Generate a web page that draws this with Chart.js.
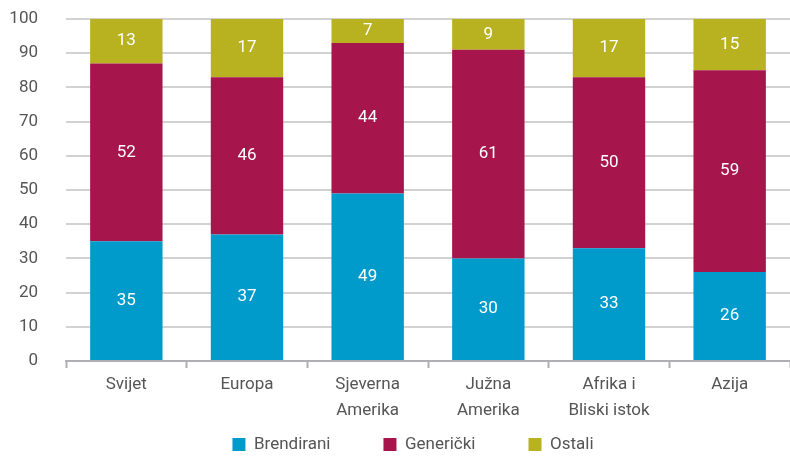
<!DOCTYPE html>
<html>
<head>
<meta charset="utf-8">
<script src="https://cdn.jsdelivr.net/npm/chart.js@4/dist/chart.umd.min.js"></script>
<style>
  html, body { margin: 0; padding: 0; background: #fff; }
  #wrap { width: 790px; height: 456px; }
</style>
</head>
<body>
<div id="wrap"><canvas id="bar-chart"></canvas></div>
<script>
// regije
var regions = [
  'Svijet',
  'Europa',
  ['Sjeverna', 'Amerika'],
  ['Južna', 'Amerika'],
  ['Afrika i', 'Bliski istok'],
  'Azija'
];

// udio po tipu (%)
var brendirani = [35, 37, 49, 30, 33, 26];
var genericki = [52, 46, 44, 61, 50, 59];
var ostali = [13, 17, 7, 9, 17, 15];

var yTicks = [0, 10, 20, 30, 40, 50, 60, 70, 80, 90, 100];

var fontName = 'Roboto, "DejaVu Sans", sans-serif';
var legendPad = 53;

// brojke u sredini stupca
var valueLabels = {
  id: 'valueLabels',
  afterDatasetsDraw: function(chart) {
    var ctx = chart.ctx;
    ctx.save();
    ctx.fillStyle = '#ffffff';
    ctx.font = '17px ' + fontName;
    ctx.textAlign = 'center';
    ctx.textBaseline = 'middle';
    chart.data.datasets.forEach(function(ds, i) {
      chart.getDatasetMeta(i).data.forEach(function(bar, j) {
        var mid = (bar.y + bar.base) / 2;
        ctx.fillText(ds.data[j], bar.x, mid);
      });
    });
    ctx.restore();
  }
};

// legenda: veliki razmak izmedu stavki, ali niska kutija
var legendFix = {
  id: 'legendFix',
  beforeInit: function(chart) {
    var lg = chart.legend;
    var origFit = lg.fit;
    lg.fit = function() {
      origFit.bind(lg)();
      this.height = 38;
    };
    lg.draw = function() {
      if (!this.options.display) return;
      var c = chart.ctx;
      c.save();
      c.translate(18, 18 - legendPad);
      this._draw();
      c.restore();
    };
  }
};

var config = {
  type: 'bar',
  data: {
    labels: regions,
    datasets: [
      { label: 'Brendirani', data: brendirani, backgroundColor: '#009bcb' },
      { label: 'Generički', data: genericki, backgroundColor: '#a6154b' },
      { label: 'Ostali', data: ostali, backgroundColor: '#b8b220' }
    ]
  },
  options: {
    responsive: true,
    maintainAspectRatio: false,
    animation: false,
    layout: { padding: 0 },
    datasets: { bar: { categoryPercentage: 1.0, barPercentage: 0.6 } },
    scales: {
      x: {
        stacked: true,
        afterFit: function(axis) { axis.height = 57; },
        grid: {
          offset: true,
          drawOnChartArea: false,
          tickLength: 7,
          tickColor: '#b0b0b4',
          tickWidth: 2
        },
        border: { display: true, color: '#b0b0b4', width: 2 },
        ticks: {
          color: '#555555',
          font: { family: fontName, size: 17, lineHeight: 1.5 },
          padding: 4,
          maxRotation: 0
        }
      },
      y: {
        stacked: true,
        min: 0,
        max: 100,
        afterFit: function(axis) {
          axis.width = 66;
          axis.paddingTop = 19;
          axis.paddingBottom = 0;
        },
        afterBuildTicks: function(axis) {
          axis.ticks = yTicks.map(function(v) { return { value: v }; });
        },
        grid: {
          color: '#d2d2d2',
          lineWidth: 2,
          drawTicks: false
        },
        border: { display: false },
        ticks: {
          color: '#555555',
          font: { family: fontName, size: 17 },
          padding: 28
        }
      }
    },
    plugins: {
      legend: {
        position: 'bottom',
        labels: {
          color: '#555555',
          font: { family: fontName, size: 17 },
          boxWidth: 13,
          boxHeight: 13,
          padding: legendPad
        }
      },
      tooltip: { enabled: false }
    }
  },
  plugins: [valueLabels, legendFix]
};

var ctx = document.getElementById('bar-chart').getContext('2d');
window.myBar = new Chart(ctx, config);
</script>
</body>
</html>
